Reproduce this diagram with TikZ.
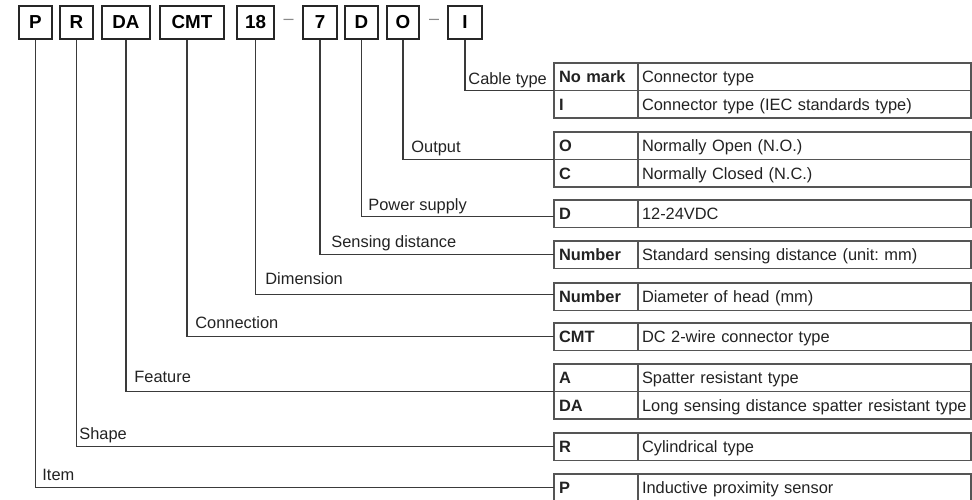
\documentclass[tikz,border=0pt]{standalone}
\usepackage{fontspec}
\setmainfont{Liberation Sans}
\frenchspacing
\definecolor{rulegray}{HTML}{555555}
\definecolor{wiregray}{HTML}{3A3A3A}
\definecolor{dashgray}{HTML}{8A8A8A}
\definecolor{inkgray}{HTML}{222222}
\tikzset{
  codebox/.style={draw=black!85,line width=0.65pt,minimum height=16.5pt,inner sep=0pt,
    font=\fontsize{9.4}{10}\selectfont\bfseries},
  keycell/.style={draw=rulegray,line width=0.65pt,anchor=north west,outer sep=0pt,
    minimum height=13.75pt,inner ysep=0pt,inner xsep=2.5pt,text width=37pt,align=left,
    text height=7pt,text depth=1.1pt,text=inkgray,font=\fontsize{8.2}{10}\selectfont\bfseries},
  desccell/.style={draw=rulegray,line width=0.65pt,anchor=north west,outer sep=0pt,
    minimum height=13.75pt,inner ysep=0pt,inner xsep=2pt,text width=162.5pt,align=left,
    text height=7pt,text depth=1.1pt,text=inkgray,font=\fontsize{8.2}{10}\selectfont},
  lbl/.style={anchor=base west,inner sep=0pt,text=inkgray,font=\fontsize{8.2}{10}\selectfont},
  wire/.style={draw=wiregray,line width=0.6pt}
}
\begin{document}
\begin{tikzpicture}[x=0.5pt,y=-0.5pt]
	\useasboundingbox (0,0) rectangle (972,499);
	% model code
	\node[codebox,minimum width=16.5pt] (bP) at(35.5,22.5) {P};
	\node[codebox,minimum width=16.5pt] (bR) at(76.5,22.5) {R};
	\node[codebox,minimum width=24pt] (bDA) at(126,22.5) {DA};
	\node[codebox,minimum width=32pt] (bCMT) at(192,22.5) {CMT};
	\node[codebox,minimum width=18.5pt] (b18) at(255.5,22.5) {18};
	\node[font=\fontsize{9}{10}\selectfont,text=dashgray,inner sep=0pt] (dashA) at(288.5,21.5) {--};
	\node[codebox,minimum width=17pt] (b7) at(320,22.5) {7};
	\node[codebox,minimum width=16.5pt] (bD) at(361.5,22.5) {D};
	\node[codebox,minimum width=16pt] (bO) at(403,22.5) {O};
	\node[font=\fontsize{9}{10}\selectfont,text=dashgray,inner sep=0pt] (dashB) at(434,21.5) {--};
	\node[codebox,minimum width=17pt] (bI) at(465,22.5) {I};
	% table
	\node[keycell] (kNomark) at(554,63) {No mark};
	\node[desccell] (dNomark) at(kNomark.north east) {Connector type};
	\node[keycell] (kI) at(554,90.5) {I};
	\node[desccell] (dI) at(kI.north east) {Connector type (IEC standards type)};
	\node[keycell] (kO) at(554,132) {O};
	\node[desccell] (dO) at(kO.north east) {Normally Open (N.O.)};
	\node[keycell] (kC) at(554,159.5) {C};
	\node[desccell] (dC) at(kC.north east) {Normally Closed (N.C.)};
	\node[keycell] (kD) at(554,200) {D};
	\node[desccell] (dD) at(kD.north east) {12-24VDC};
	\node[keycell] (kSense) at(554,241) {Number};
	\node[desccell] (dSense) at(kSense.north east) {Standard sensing distance (unit: mm)};
	\node[keycell] (kDia) at(554,283) {Number};
	\node[desccell] (dDia) at(kDia.north east) {Diameter of head (mm)};
	\node[keycell] (kCMT) at(554,323) {CMT};
	\node[desccell] (dCMT) at(kCMT.north east) {DC 2-wire connector type};
	\node[keycell] (kA) at(554,364) {A};
	\node[desccell] (dA) at(kA.north east) {Spatter resistant type};
	\node[keycell] (kDA) at(554,391.5) {DA};
	\node[desccell] (dDA) at(kDA.north east) {Long sensing distance spatter resistant type};
	\node[keycell] (kR) at(554,433) {R};
	\node[desccell] (dR) at(kR.north east) {Cylindrical type};
	\node[keycell] (kP) at(554,474) {P};
	\node[desccell] (dP) at(kP.north east) {Inductive proximity sensor};
	% leaders
	\draw[wire] (bI.south) |- (kNomark.south west);
	\draw[wire] (bO.south) |- (kO.south west);
	\draw[wire] (bD.south) |- ([yshift=-1.5pt]kD.west);
	\draw[wire] (b7.south) |- (kSense.west);
	\draw[wire] (b18.south) |- ([yshift=1pt]kDia.west);
	\draw[wire] ([xshift=-2.5pt]bCMT.south) |- (kCMT.west);
	\draw[wire] (bDA.south) |- (kA.south west);
	\draw[wire] (bR.south) |- (kR.west);
	\draw[wire] (bP.south) |- (kP.west);
	% labels
	\node[lbl] (tCable) at(468,84) {Cable type};
	\node[lbl] (tOut) at(411,152) {Output};
	\node[lbl] (tPower) at(368,210) {Power supply};
	\node[lbl] (tSense) at(331,247) {Sensing distance};
	\node[lbl] (tDim) at(265,284) {Dimension};
	\node[lbl] (tConn) at(195,328) {Connection};
	\node[lbl] (tFeat) at(134,382) {Feature};
	\node[lbl] (tShape) at(79,439) {Shape};
	\node[lbl] (tItem) at(42,480) {Item};
\end{tikzpicture}
\end{document}
